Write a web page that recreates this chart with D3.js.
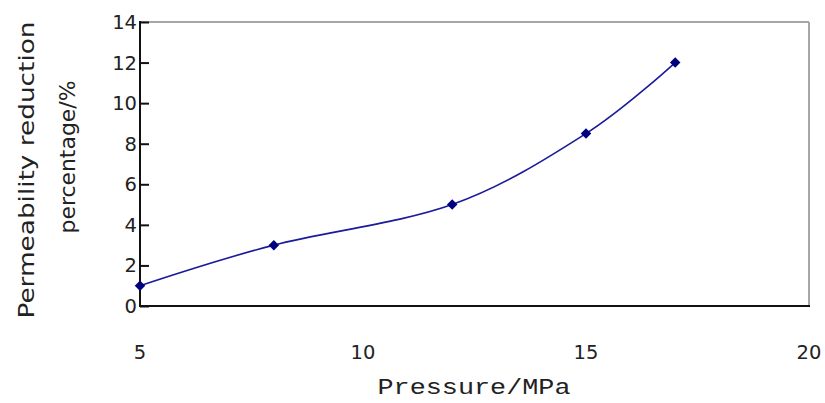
<!DOCTYPE html>
<html><head><meta charset="utf-8">
<script src="https://cdn.jsdelivr.net/npm/d3@7"></script>
<style>body{margin:0;background:#fff}svg{display:block}</style>
</head><body>
<svg id="c" width="825" height="403"></svg>
<script>
const pressure = [5, 8, 12, 15, 17];
const reduction = [1, 3, 5, 8.5, 12];
const xTicks = [5, 10, 15, 20];
const yTicks = [0, 2, 4, 6, 8, 10, 12, 14];
const xTitle = "Pressure/MPa";
const yTitle = ["Permeability reduction", "percentage/%"];

const svg = d3.select("#c");
const L = 140, R = 809, T = 22, B = 306;
const x = d3.scaleLinear().domain([5, 20]).range([L, R]);
const y = d3.scaleLinear().domain([0, 14]).range([B, T]);

// frame
svg.append("line").attr("x1", L).attr("x2", R).attr("y1", T).attr("y2", T).attr("stroke", "#a6a6a6").attr("stroke-width", 2);
svg.append("line").attr("x1", R).attr("x2", R).attr("y1", T).attr("y2", B).attr("stroke", "#a6a6a6").attr("stroke-width", 2);

// y axis with inward ticks
const yAxis = svg.append("g").attr("transform", `translate(${L},0)`)
  .call(d3.axisRight(y).tickValues(yTicks).tickSize(9).tickFormat(""));
yAxis.select(".domain").remove();
yAxis.selectAll("line").attr("stroke", "#111").attr("stroke-width", 2);
svg.append("line").attr("x1", L).attr("x2", L).attr("y1", T - 1).attr("y2", B + 1).attr("stroke", "#111").attr("stroke-width", 2);
svg.append("line").attr("x1", L - 1).attr("x2", R + 1).attr("y1", B).attr("y2", B).attr("stroke", "#111").attr("stroke-width", 2);

svg.append("g").selectAll("text").data(yTicks).join("text")
  .attr("x", 137).attr("y", d => y(d)).attr("dy", "0.36em")
  .attr("text-anchor", "end").attr("font-family", "DejaVu Sans").attr("font-size", 19.5).attr("fill", "#222")
  .text(d => d);

svg.append("g").selectAll("text").data(xTicks).join("text")
  .attr("x", d => x(d)).attr("y", 352).attr("dy", "0.36em")
  .attr("text-anchor", "middle").attr("font-family", "DejaVu Sans").attr("font-size", 19.5).attr("fill", "#222")
  .text(d => d);

// titles
svg.append("text").attr("x", 474).attr("y", 394).attr("text-anchor", "middle")
  .attr("font-family", "Liberation Mono").attr("font-size", 22).attr("fill", "#222")
  .attr("textLength", 193).attr("lengthAdjust", "spacingAndGlyphs").text(xTitle);

svg.append("text").attr("transform", "translate(34,170) rotate(-90)").attr("text-anchor", "middle")
  .attr("font-family", "DejaVu Sans").attr("font-size", 21).attr("fill", "#222")
  .attr("textLength", 297).attr("lengthAdjust", "spacingAndGlyphs").text(yTitle[0]);
svg.append("text").attr("transform", "translate(75,157) rotate(-90)").attr("text-anchor", "middle")
  .attr("font-family", "DejaVu Sans").attr("font-size", 21).attr("fill", "#222")
  .attr("textLength", 153).attr("lengthAdjust", "spacingAndGlyphs").text(yTitle[1]);

// series
const pts = pressure.map((p, i) => [p, reduction[i]]);
const line = d3.line().x(d => x(d[0])).y(d => y(d[1])).curve(d3.curveCardinal.tension(0));
svg.append("path").attr("d", line(pts)).attr("fill", "none").attr("stroke", "#1a1a9a").attr("stroke-width", 1.6);
svg.append("g").selectAll("path").data(pts).join("path")
  .attr("transform", d => `translate(${x(d[0])},${y(d[1])})`)
  .attr("d", d3.symbol(d3.symbolDiamond2, 70)).attr("fill", "#000080");
</script>
</body></html>
